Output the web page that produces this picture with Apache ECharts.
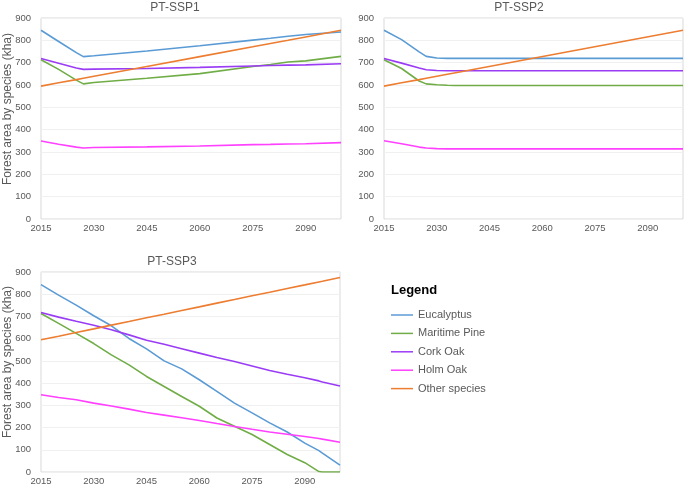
<!DOCTYPE html>
<html>
<head>
<meta charset="utf-8">
<script src="https://cdn.jsdelivr.net/npm/echarts@6/dist/echarts.min.js"></script>
<style>
html,body{margin:0;padding:0;background:#fff;}
#c{width:685px;height:486px;}
</style>
</head>
<body>
<div id="c"></div>
<script>
// ---- Data ----
const speciesNames = ['Eucalyptus', 'Maritime Pine', 'Cork Oak', 'Holm Oak', 'Other species'];
const panelTitles = ['PT-SSP1', 'PT-SSP2', 'PT-SSP3'];
const yAxisTitle = 'Forest area by species (kha)';
const legendTitle = 'Legend';
const yTicks = [0, 100, 200, 300, 400, 500, 600, 700, 800, 900];
const xTicks = [2015, 2030, 2045, 2060, 2075, 2090];

// PT-SSP1
const ssp1Years = [2015, 2020, 2025, 2027, 2030, 2045, 2060, 2075, 2080, 2085, 2090, 2100];
const ssp1Eucalyptus = [845, 795, 745, 727, 731, 752, 776, 801, 809, 818, 826, 837];
const ssp1MaritimePine = [713, 670, 622, 605, 611, 630, 651, 683, 692, 703, 708, 728];
const ssp1CorkOak = [719, 697, 676, 670, 671, 674, 679, 685, 687, 689, 690, 695];
const ssp1HolmOak = [349, 335, 322, 318, 320, 323, 327, 333, 334, 336, 337, 342];
const ssp1Other = [595, 610, 624, 630, 639, 683, 727, 771, 786, 800, 815, 845];

// PT-SSP2
const ssp2Years = [2015, 2020, 2025, 2027, 2030, 2033, 2035, 2100];
const ssp2Eucalyptus = [845, 803, 748, 728, 721, 719, 719, 719];
const ssp2MaritimePine = [713, 674, 618, 605, 601, 599, 598, 598];
const ssp2CorkOak = [719, 698, 676, 668, 665, 664, 664, 664];
const ssp2HolmOak = [350, 337, 322, 318, 315, 314, 314, 314];
const ssp2Other = [595, 610, 624, 630, 639, 648, 654, 845];

// PT-SSP3
const ssp3Years = [2015, 2020, 2025, 2030, 2035, 2040, 2045, 2050, 2055, 2060, 2065, 2070, 2075, 2080, 2085, 2090, 2094, 2095, 2100];
const ssp3Eucalyptus = [843, 796, 751, 703, 658, 601, 554, 500, 464, 415, 363, 310, 266, 221, 180, 130, 96, 85, 31];
const ssp3MaritimePine = [713, 669, 624, 578, 527, 482, 430, 385, 340, 296, 243, 206, 169, 124, 79, 42, 2, 0, 0];
const ssp3CorkOak = [718, 697, 678, 660, 640, 617, 593, 575, 555, 535, 515, 497, 477, 457, 440, 424, 410, 405, 387];
const ssp3HolmOak = [348, 335, 325, 310, 297, 283, 268, 256, 244, 232, 218, 205, 192, 180, 170, 160, 151, 148, 134];
const ssp3Other = [595, 611, 628, 644, 661, 677, 694, 710, 727, 743, 760, 776, 793, 809, 826, 842, 855, 858, 875];

const colors = ['#5B9BD5', '#70AD47', '#9B3CF5', '#FF40FF', '#ED7D31'];

const panels = [
  {years: ssp1Years, values: [ssp1Eucalyptus, ssp1MaritimePine, ssp1CorkOak, ssp1HolmOak, ssp1Other]},
  {years: ssp2Years, values: [ssp2Eucalyptus, ssp2MaritimePine, ssp2CorkOak, ssp2HolmOak, ssp2Other]},
  {years: ssp3Years, values: [ssp3Eucalyptus, ssp3MaritimePine, ssp3CorkOak, ssp3HolmOak, ssp3Other]}
];

// ---- Layout ----
const FONT = '"Liberation Sans", Arial, Helvetica, sans-serif';
const TXT = '#595959';
const grids = [
  {left: 41, top: 18, width: 300, height: 201},
  {left: 384, top: 18, width: 299, height: 201},
  {left: 41, top: 272, width: 299, height: 201}
];
const titlePos = [{x: 175, y: 2}, {x: 519, y: 2}, {x: 172, y: 256}];
const yNamePos = [{x: 8, y: 109}, {x: 8, y: 362}];

const option = {
  animation: false,
  backgroundColor: '#fff',
  textStyle: {fontFamily: FONT},
  title: panelTitles.map((t, i) => ({
    text: t,
    left: titlePos[i].x,
    top: titlePos[i].y,
    padding: 0,
    textAlign: 'center',
    textStyle: {fontFamily: FONT, fontSize: 12, fontWeight: 'normal', color: TXT}
  })).concat([{
    text: legendTitle,
    left: 391,
    top: 284,
    padding: 0,
    textStyle: {fontFamily: FONT, fontSize: 13, fontWeight: 'bold', color: '#000'}
  }]),
  graphic: yNamePos.map(p => ({
    type: 'text',
    x: p.x,
    y: p.y,
    rotation: Math.PI / 2,
    style: {
      text: yAxisTitle,
      fill: TXT,
      font: '12px ' + FONT,
      align: 'center',
      verticalAlign: 'middle'
    }
  })),
  grid: grids.map(g => Object.assign({show: true, borderColor: '#D9D9D9', borderWidth: 1, backgroundColor: 'transparent'}, g)),
  legend: {
    orient: 'vertical',
    left: 391,
    top: 308,
    padding: 0,
    itemWidth: 22,
    itemHeight: 1.5,
    itemGap: 4.4,
    icon: 'rect',
    data: speciesNames,
    textStyle: {fontFamily: FONT, fontSize: 11, color: TXT, lineHeight: 14}
  },
  xAxis: grids.map((g, i) => ({
    type: 'value',
    gridIndex: i,
    min: 2015,
    max: 2100,
    interval: 15,
    axisLine: {show: false},
    axisTick: {show: false},
    splitLine: {show: false},
    axisLabel: {
      showMaxLabel: false,
      margin: 4,
      fontFamily: FONT, fontSize: 9.5, color: TXT,
      formatter: v => (xTicks.indexOf(v) >= 0 ? String(v) : '')
    }
  })),
  yAxis: grids.map((g, i) => ({
    type: 'value',
    gridIndex: i,
    min: yTicks[0],
    max: yTicks[yTicks.length - 1],
    interval: 100,
    axisLine: {show: false},
    axisTick: {show: false},
    splitLine: {show: true, lineStyle: {color: '#F0F0F0', width: 1}},
    axisLabel: {margin: 10, fontFamily: FONT, fontSize: 9.5, color: TXT}
  })),
  series: []
};

panels.forEach((p, pi) => {
  p.values.forEach((vals, si) => {
    option.series.push({
      type: 'line',
      name: speciesNames[si],
      xAxisIndex: pi,
      yAxisIndex: pi,
      showSymbol: false,
      symbol: 'none',
      color: colors[si],
      lineStyle: {width: 1.6, color: colors[si]},
      data: p.years.map((y, k) => [y, vals[k]])
    });
  });
});

const chart = echarts.init(document.getElementById('c'), null, {renderer: 'canvas'});
chart.setOption(option);
</script>
</body>
</html>
